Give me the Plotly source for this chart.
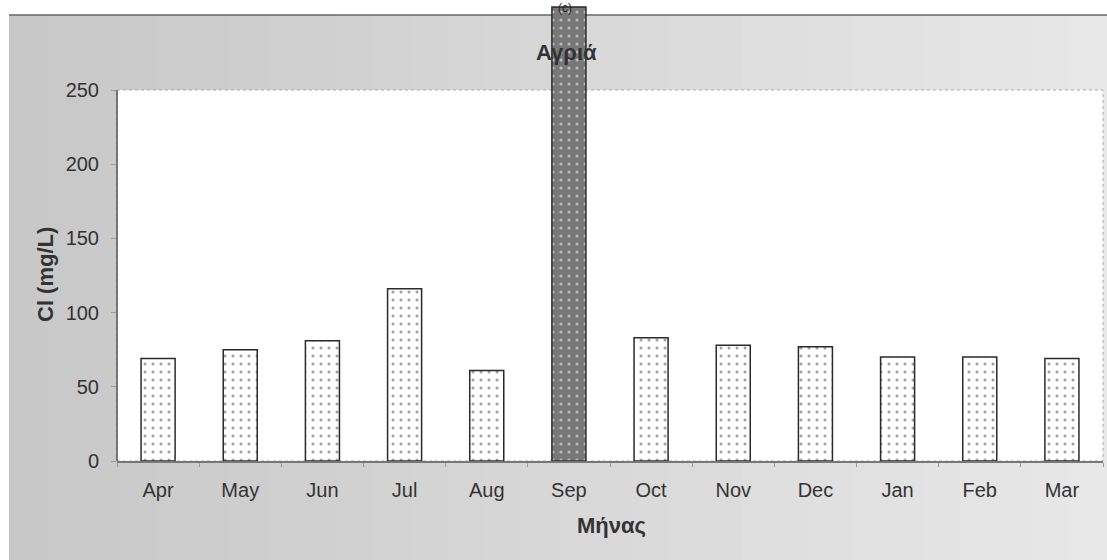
import plotly.graph_objects as go

months = ["Apr", "May", "Jun", "Jul", "Aug", "Sep", "Oct", "Nov", "Dec", "Jan", "Feb", "Mar"]
cl_values = [69, 75, 81, 116, 61, 306, 83, 78, 77, 70, 70, 69]
y_ticks = [0, 50, 100, 150, 200, 250]

W, H = 1107, 560
L, R, T, B = 117, 4, 0, 99
PW, PH = W - L - R, H - T - B
Y_MAX = 250 * PH / 371.0


def px_x(p):
    return (p - L) / PW


def px_y(p):
    return (H - B - p) / PH


bar_colors = ["#787878" if m == "Sep" else "white" for m in months]
dot_colors = ["#4a4a4a" if m == "Sep" else "#555555" for m in months]
FONT = "Liberation Sans, Arial"

fig = go.Figure()
fig.add_trace(go.Bar(
    x=months, y=cl_values,
    marker=dict(
        color=bar_colors,
        line=dict(color="#2a2a2a", width=1.5),
        pattern=dict(shape=".", fgcolor=dot_colors, size=8, solidity=0.12, fillmode="overlay"),
    ),
    showlegend=False,
))

shapes = []
n = 30
x0p, x1p = 9, W
for i in range(n):
    a = x0p + (x1p - x0p) * i / n
    b = x0p + (x1p - x0p) * (i + 1) / n + 1
    t = i / (n - 1)
    g = int(200 + (232 - 200) * t)
    shapes.append(dict(type="rect", xref="paper", yref="paper",
                       x0=px_x(a), x1=px_x(b), y0=px_y(H), y1=px_y(15),
                       fillcolor=f"rgb({g},{g},{g})", line=dict(width=0), layer="below"))
shapes.append(dict(type="line", xref="paper", yref="paper",
                   x0=px_x(9), x1=px_x(W), y0=px_y(15), y1=px_y(15),
                   line=dict(color="#666666", width=1.5), layer="below"))
shapes.append(dict(type="rect", xref="paper", yref="y",
                   x0=0, x1=1, y0=0, y1=250,
                   fillcolor="white", line=dict(color="#aaaaaa", width=1, dash="dot"), layer="below"))
shapes.append(dict(type="line", xref="paper", yref="y",
                   x0=0, x1=0, y0=0, y1=250,
                   line=dict(color="#555555", width=1.5), layer="below"))

annotations = [
    dict(text="<b>Αγριά</b>", xref="paper", yref="paper", x=px_x(566), y=px_y(52),
         showarrow=False, font=dict(size=22, color="#333333", family=FONT),
         xanchor="center", yanchor="middle"),
    dict(text="(c)", xref="paper", yref="paper", x=px_x(565), y=px_y(0),
         showarrow=False, font=dict(size=12, color="#222222", family=FONT),
         xanchor="center", yanchor="top", borderpad=0),
    dict(text="<b>Cl (mg/L)</b>", xref="paper", yref="paper", x=px_x(45), y=px_y(275),
         showarrow=False, textangle=-90, font=dict(size=22, color="#333333", family=FONT),
         xanchor="center", yanchor="middle"),
    dict(text="<b>Μήνας</b>", xref="paper", yref="paper", x=px_x(611), y=px_y(525),
         showarrow=False, font=dict(size=22, color="#333333", family=FONT),
         xanchor="center", yanchor="middle"),
]

fig.update_layout(
    width=W, height=H,
    margin=dict(l=L, r=R, t=T, b=B),
    paper_bgcolor="white",
    plot_bgcolor="rgba(0,0,0,0)",
    bargap=0.586,
    shapes=shapes,
    annotations=annotations,
    font=dict(family=FONT, color="#333333"),
)
fig.update_xaxes(
    type="category", categoryorder="array", categoryarray=months,
    showline=True, linecolor="#777777", linewidth=1.5,
    ticks="outside", tickson="boundaries", ticklen=4, tickcolor="#999999",
    tickfont=dict(size=20, color="#333333"), ticklabelstandoff=10,
    showgrid=False, zeroline=False,
)
fig.update_yaxes(
    range=[0, Y_MAX], tickvals=y_ticks, ticktext=[str(v) for v in y_ticks],
    showline=False, showgrid=False, zeroline=False,
    ticks="outside", ticklen=5, tickcolor="#999999",
    tickfont=dict(size=20, color="#333333"), ticklabelstandoff=8,
)

fig.write_html(
    "out.html",
    config={"displayModeBar": False},
    post_script="document.body.style.margin='0';document.body.style.overflow='hidden';",
)
